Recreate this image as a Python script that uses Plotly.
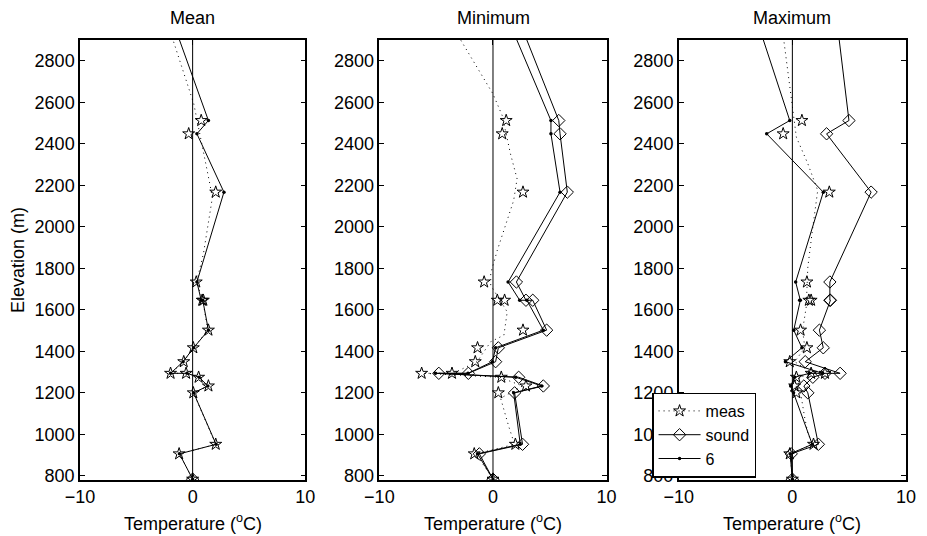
import plotly.graph_objects as go

# ---------------- data ----------------
# station elevations (m); first entry is a station above the plotted range
elev = [3100, 2512, 2448, 2167, 1734, 1646, 1646, 1502, 1417, 1350,
        1294, 1294, 1275, 1233, 1200, 952, 906, 784]

panel_titles = ["Mean", "Minimum", "Maximum"]

# measured anomalies (stars)
mean_meas = [None, 0.76, -0.35, 2.05, 0.32, 0.85, 0.95, 1.40, 0.06, -0.79,
             -1.96, -0.58, 0.53, 1.40, 0.06, 2.05, -1.20, 0.0]
min_meas = [None, 1.16, 0.81, 2.64, -0.78, 0.38, 1.02, 2.64, -1.36, -1.56,
            -6.28, -3.61, 0.73, 2.90, 0.47, 1.97, -1.65, 0.0]
max_meas = [None, 0.84, -0.81, 3.25, 1.28, 1.45, 1.65, 0.72, 1.28, -0.23,
            1.65, 2.87, 0.35, 0.20, 0.35, 1.86, -0.23, 0.0]

# sounding (diamonds)
mean_sound = [None, None, None, None, None, None, None, None, None, None,
              None, None, None, None, None, None, None, 0.0]
min_sound = [1.53, 5.79, 5.90, 6.54, 2.06, 2.90, 3.50, 4.72, 0.47, 0.23,
             -2.17, -4.77, 2.26, 4.43, 1.90, 2.60, -1.20, 0.0]
max_sound = [3.68, 4.98, 3.01, 6.93, 3.30, 3.30, 3.35, 2.38, 2.72, 1.13,
             4.20, 2.87, 1.80, 1.01, 1.36, 2.29, -0.10, 0.0]

# model "6" (dots)
mean_model = [-2.49, 1.40, 0.38, 2.78, 0.38, 0.76, 0.90, 1.40, 0.09, -0.85,
              -1.96, -0.50, 0.58, 1.35, 0.09, 2.08, -1.17, 0.0]
min_model = [0.55, 5.10, 5.10, 5.90, 1.33, 2.35, 2.98, 4.43, 0.23, -0.05,
             -2.20, -5.06, 2.00, 4.29, 1.82, 2.40, -1.36, 0.0]
max_model = [-3.75, -0.23, -2.26, 2.72, 0.29, 0.64, 0.70, 0.12, 0.84, -0.61,
             2.67, 1.50, 0.20, -0.15, 0.10, 1.75, -0.20, 0.0]

# measured profile (dotted line)
mean_dot_elev = [2960, 2593, 2200, 2140, 1871, 1734, 1646, 1502, 1417, 1350,
                 1294, 1294, 1275, 1233, 1200, 952, 906, 784]
mean_dot_temp = [-2.10, 0.10, 1.55, 1.75, 0.96, 0.35, 0.90, 1.35, 0.08, -0.80,
                 -1.96, -0.55, 0.55, 1.38, 0.08, 2.05, -1.18, 0.0]
min_dot_elev = [2960, 2640, 2536, 2351, 2231, 2127, 1887, 1776, 1718, 1590,
                1478, 1446, 1350, 1294, 1294, 1275, 1233, 1174, 1037, 952, 906, 784]
min_dot_temp = [-3.50, 0.0, 0.81, 1.54, 2.12, 1.82, 0.38, -0.20, -0.20, 1.25,
                0.96, -0.20, -1.40, -3.50, -6.00, 0.60, 2.60, 0.67, 1.39, 1.90, -1.50, 0.0]
max_dot_elev = [2960, 2736, 2608, 2432, 2304, 2175, 1999, 1806, 1614, 1502,
                1417, 1350, 1294, 1275, 1233, 1181, 1085, 1005, 952, 906, 784]
max_dot_temp = [-0.90, -0.37, -0.09, 0.35, 1.36, 2.23, 1.80, 1.36, 1.22, 0.90,
                1.10, 0.20, 1.80, 0.60, 0.50, 0.78, 1.07, 1.36, 1.80, -0.20, 0.0]

x_ticks = [-10, 0, 10]
y_ticks = [800, 1000, 1200, 1400, 1600, 1800, 2000, 2200, 2400, 2600, 2800]
x_range = [-10, 10]
y_range = [780, 2900]

legend_names = ["meas", "sound", "6"]

# ---------------- figure ----------------
FONT = "Liberation Sans, Arial, Helvetica, sans-serif"
fig = go.Figure()

panels = [
    (mean_meas, mean_sound, mean_model, mean_dot_elev, mean_dot_temp),
    (min_meas, min_sound, min_model, min_dot_elev, min_dot_temp),
    (max_meas, max_sound, max_model, max_dot_elev, max_dot_temp),
]


def separated(xs, ys):
    """Interleave None so that isolated markers are not joined by lines."""
    ox, oy = [], []
    for xv, yv in zip(xs, ys):
        if xv is None:
            continue
        ox += [xv, None]
        oy += [yv, None]
    return ox, oy


for i, (meas, sound, model, delev, dtemp) in enumerate(panels):
    ax = "" if i == 0 else str(i + 1)
    xa, ya = "x" + ax, "y" + ax
    show = (i == 2)
    # dotted measured profile
    fig.add_trace(go.Scatter(
        x=dtemp, y=delev, mode="lines", xaxis=xa, yaxis=ya,
        line=dict(color="black", width=1, dash="1px,4px"),
        showlegend=False, legendgroup="meas", hoverinfo="skip"))
    # sounding
    fig.add_trace(go.Scatter(
        x=sound, y=elev, mode="lines+markers", xaxis=xa, yaxis=ya,
        name=legend_names[1], showlegend=show, legendgroup="sound",
        legendrank=2, connectgaps=False,
        line=dict(color="black", width=1),
        marker=dict(symbol="diamond-open", size=9.5, color="black",
                    line=dict(width=1, color="black"))))
    # model 6
    fig.add_trace(go.Scatter(
        x=model, y=elev, mode="lines+markers", xaxis=xa, yaxis=ya,
        name=legend_names[2], showlegend=show, legendgroup="6",
        legendrank=3,
        line=dict(color="black", width=1),
        marker=dict(symbol="circle", size=3.5, color="black")))
    # measured stars
    sx, sy = separated(meas, elev)
    fig.add_trace(go.Scatter(
        x=sx, y=sy, mode="lines+markers", xaxis=xa, yaxis=ya,
        name=legend_names[0], showlegend=show, legendgroup="meas",
        legendrank=1, connectgaps=False,
        line=dict(color="black", width=1, dash="1px,4px"),
        marker=dict(symbol="star-open", size=9, color="black",
                    line=dict(width=1, color="black"))))

# layout
plot_w = 927 - 80 - 11
doms = [[0, 228 / plot_w], [303 / plot_w, 533 / plot_w], [606 / plot_w, 1.0]]

axis_common = dict(
    showline=True, linecolor="black", linewidth=1.5, mirror="ticks",
    ticks="inside", ticklen=5, tickwidth=1, tickcolor="black",
    showgrid=False, zeroline=False,
    tickfont=dict(family=FONT, size=18, color="black"),
)

layout = dict(
    width=927, height=536,
    margin=dict(l=80, r=11, t=40, b=56),
    paper_bgcolor="white", plot_bgcolor="white",
    font=dict(family=FONT, size=18, color="black"),
    legend=dict(x=(659 - 80) / plot_w, y=(480 - 435) / 440,
                xanchor="left", yanchor="middle",
                bgcolor="white", bordercolor="black", borderwidth=1.5,
                font=dict(family=FONT, size=16, color="black"),
                itemwidth=42, tracegroupgap=0),
    shapes=[],
    annotations=[],
)

for i in range(3):
    ax = "" if i == 0 else str(i + 1)
    layout["xaxis" + ax] = dict(axis_common, domain=doms[i], range=x_range,
                                tickvals=x_ticks, anchor="y" + ax)
    layout["yaxis" + ax] = dict(axis_common, domain=[0, 1], range=y_range,
                                tickvals=y_ticks, anchor="x" + ax)
    layout["shapes"].append(dict(
        type="line", xref="x" + ax, yref="y" + ax + " domain",
        x0=0, x1=0, y0=0, y1=1, line=dict(color="black", width=1), layer="below"))
    xc = (doms[i][0] + doms[i][1]) / 2
    layout["annotations"].append(dict(
        text=panel_titles[i], xref="paper", yref="paper", x=xc, y=1,
        xanchor="center", yanchor="middle", yshift=22, showarrow=False,
        font=dict(family=FONT, size=18, color="black")))
    layout["annotations"].append(dict(
        text="Temperature (<sup>o</sup>C)", xref="paper", yref="paper", x=xc, y=0,
        xanchor="center", yanchor="middle", yshift=-42, showarrow=False,
        font=dict(family=FONT, size=18, color="black")))

layout["annotations"].append(dict(
    text="Elevation (m)", xref="paper", yref="paper", x=0, y=0.5,
    xanchor="center", yanchor="middle", xshift=-62, textangle=-90,
    showarrow=False, font=dict(family=FONT, size=18, color="black")))

fig.update_layout(layout)
fig.write_html("out.html")
